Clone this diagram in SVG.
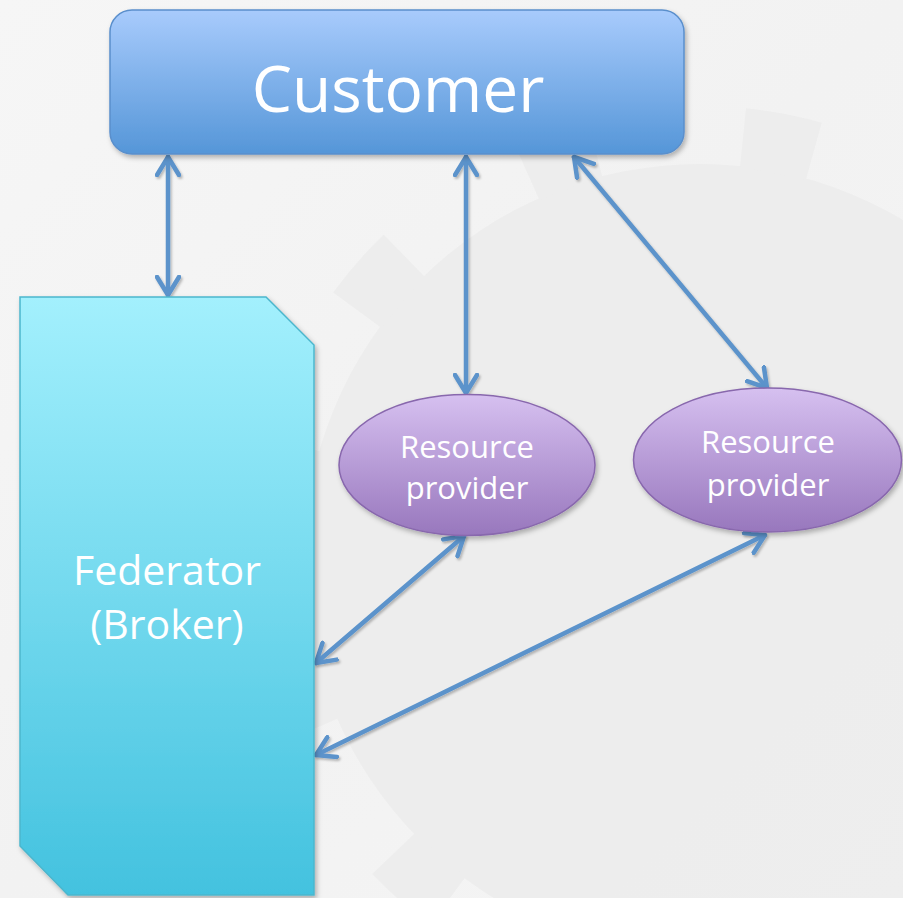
<svg xmlns="http://www.w3.org/2000/svg" width="903" height="898" viewBox="0 0 903 898">
  <defs>
    <linearGradient id="bg" x1="0" y1="0" x2="1" y2="1">
      <stop offset="0" stop-color="#f6f6f6"/>
      <stop offset="0.5" stop-color="#f2f2f2"/>
      <stop offset="1" stop-color="#f5f5f5"/>
    </linearGradient>
    <linearGradient id="custFill" x1="0" y1="0" x2="0" y2="1">
      <stop offset="0" stop-color="#a8cbfc"/>
      <stop offset="1" stop-color="#5596d8"/>
    </linearGradient>
    <linearGradient id="fedFill" x1="0" y1="0" x2="0" y2="1">
      <stop offset="0" stop-color="#a3f0fd"/>
      <stop offset="1" stop-color="#43c2df"/>
    </linearGradient>
    <linearGradient id="rpFill" x1="0" y1="0" x2="0" y2="1">
      <stop offset="0" stop-color="#d6c0f0"/>
      <stop offset="1" stop-color="#9877bd"/>
    </linearGradient>
    <filter id="shadow" x="-10%" y="-10%" width="120%" height="120%">
      <feDropShadow dx="2" dy="3" stdDeviation="2.5" flood-color="#000" flood-opacity="0.28"/>
    </filter>
    <filter id="lineShadow" x="-10%" y="-10%" width="120%" height="120%">
      <feDropShadow dx="1.5" dy="2" stdDeviation="1.2" flood-color="#000" flood-opacity="0.25"/>
    </filter>
    <marker id="head" viewBox="0 0 22 26" refX="20" refY="13" markerWidth="22" markerHeight="26" markerUnits="userSpaceOnUse" orient="auto-start-reverse">
      <path d="M2,2 L20,13 L2,24" fill="none" stroke="#5b93cb" stroke-width="4.5" stroke-linecap="round" stroke-linejoin="round"/>
    </marker>
    <style>
      .conn { fill: none; stroke: #5b93cb; stroke-width: 4.5; stroke-linecap: round; marker-start: url(#head); marker-end: url(#head); }
      .label { font-family: "Open Sans", "Noto Sans", "Liberation Sans", sans-serif; fill: #ffffff; text-anchor: middle; }
      .rp { fill: url(#rpFill); stroke: #8867ad; stroke-width: 1.5; filter: url(#shadow); }
    </style>
  </defs>

  <!-- backdrop with a faint gear watermark -->
  <rect x="0" y="0" width="903" height="898" fill="url(#bg)"/>
  <g id="gear" opacity="0.55">
    <circle cx="700" cy="560" r="396" fill="#e9e9e9"/>
    <circle cx="700" cy="560" r="424" fill="none" stroke="#e9e9e9" stroke-width="60" stroke-dasharray="72 148.96" stroke-dashoffset="-52"/>
  </g>

  <!-- connectors -->
  <g id="connectors" filter="url(#lineShadow)">
    <line class="conn" x1="168" y1="157" x2="168" y2="295"/>
    <line class="conn" x1="466" y1="157" x2="466" y2="393"/>
    <line class="conn" x1="574" y1="157" x2="767" y2="388"/>
    <line class="conn" x1="464" y1="536" x2="316" y2="663"/>
    <line class="conn" x1="765" y1="535" x2="316" y2="755"/>
  </g>

  <!-- Customer -->
  <g id="customer">
    <rect x="110" y="10" width="574" height="144" rx="22" ry="22" fill="url(#custFill)" stroke="#5a8fcc" stroke-width="1.5" filter="url(#shadow)"/>
    <text class="label" x="398" y="112" font-size="64">Customer</text>
  </g>

  <!-- Federator (Broker) -->
  <g id="federator">
    <path d="M20,297 L266,297 L314,345 L314,895 L68,895 L20,846 Z" fill="url(#fedFill)" stroke="#4cb6cd" stroke-width="1.5" filter="url(#shadow)"/>
    <text class="label" x="167" y="585" font-size="41">Federator</text>
    <text class="label" x="167" y="639" font-size="41">(Broker)</text>
  </g>

  <!-- Resource providers -->
  <g id="provider1">
    <ellipse class="rp" cx="467" cy="465" rx="128" ry="70.5"/>
    <text class="label" x="467" y="458" font-size="31">Resource</text>
    <text class="label" x="467" y="499" font-size="31">provider</text>
  </g>
  <g id="provider2">
    <ellipse class="rp" cx="767.5" cy="460" rx="134" ry="72"/>
    <text class="label" x="768" y="453" font-size="31">Resource</text>
    <text class="label" x="768" y="496" font-size="31">provider</text>
  </g>
</svg>
